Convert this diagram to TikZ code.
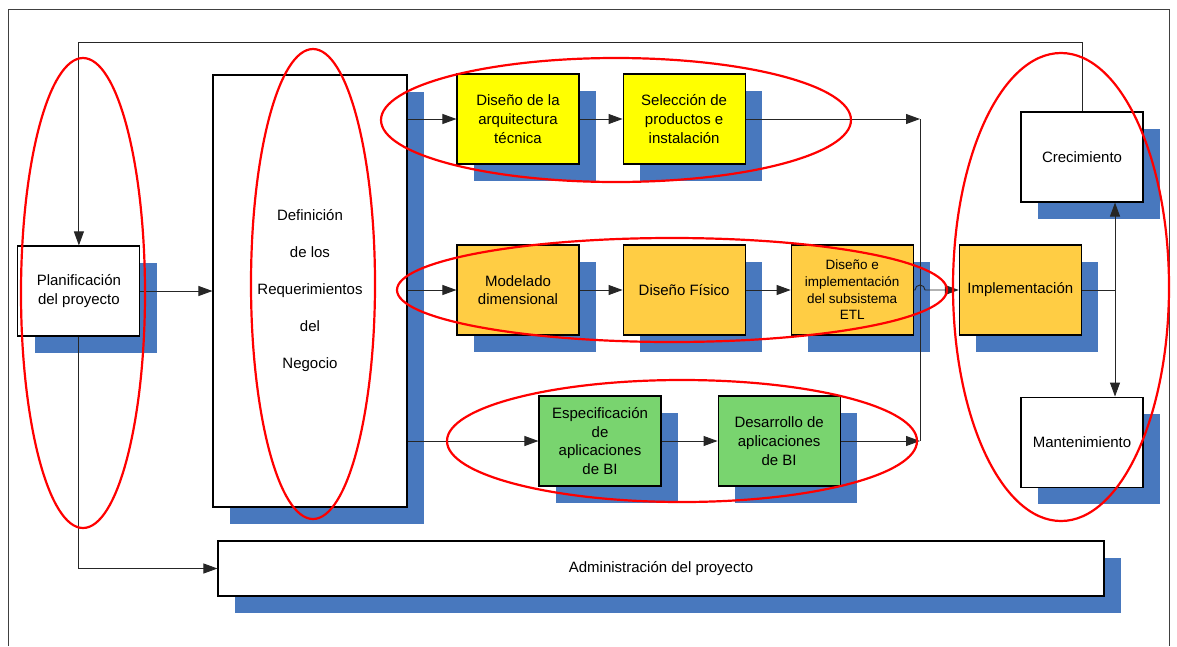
\documentclass[tikz,border=0pt]{standalone}
\usepackage{fontspec}
\setmainfont{Liberation Sans}
\usetikzlibrary{positioning,shadows,arrows.meta}
\definecolor{azul}{HTML}{4878BE}
\definecolor{amarillo}{HTML}{FFFF00}
\definecolor{naranjo}{HTML}{FFCD44}
\definecolor{verdoso}{HTML}{79D46F}
\begin{document}
\begin{tikzpicture}[x=1pt,y=-1pt,
  caja/.style={draw, line width=1.1pt, minimum width=122pt, minimum height=90pt, inner sep=2pt,
    align=center, font=\fontsize{15}{18.7}\selectfont,
    drop shadow={shadow xshift=17pt, shadow yshift=-17pt, fill=azul, opacity=1}},
  blanca/.style={caja, fill=white},
  amarilla/.style={caja, fill=amarillo},
  naranja/.style={caja, fill=naranjo},
  verde/.style={caja, fill=verdoso},
  linea/.style={line width=0.9pt, black!85},
  flecha/.style={linea, -{Triangle[length=14pt,width=10pt]}},
  anillo/.style={draw=red, line width=2.2pt}]
\useasboundingbox (0,0) rectangle (1177,646);
\draw[line width=1pt, black!75] (8,646) -- (8,9) -- (1169,9) -- (1169,646);

\node[blanca, minimum width=194pt, minimum height=432pt, font=\fontsize{15}{37}\selectfont] (def) at (310,291) {Definición\\de los\\Requerimientos\\del\\Negocio};
\node[blanca, left=72pt of def] (plan) {Planificación\\del proyecto};
\node[amarilla] (arq) at (518,119) {Diseño de la\\arquitectura\\técnica};
\node[amarilla, right=43pt of arq] (sel) {Selección de\\productos e\\instalación};
\node[naranja] (mod) at (518,290) {Modelado\\dimensional};
\node[naranja, right=43pt of mod] (fis) {Diseño Físico};
\node[naranja, right=45pt of fis, font=\fontsize{13.5}{16.7}\selectfont] (etl) {Diseño e\\implementación\\del subsistema\\ETL};
\node[naranja, right=45pt of etl] (imp) {Implementación};
\node[verde] (esp) at (600,441) {Especificación\\de\\aplicaciones\\de BI};
\node[verde, right=56pt of esp] (des) {Desarrollo de\\aplicaciones\\de BI};
\node[blanca] (cre) at (1082,157) {Crecimiento};
\node[blanca, below=194pt of cre] (man) {Mantenimiento};
\node[blanca, minimum width=886pt, minimum height=55pt] (adm) at (661,568.5) {Administración del proyecto};

\coordinate (ja) at (920,119);
\coordinate (jb) at (920,441);
\coordinate (sp) at (1115,290);

\draw[flecha] (plan.east) -- (def.west);
\draw[flecha] (def.east |- arq.west) -- (arq.west);
\draw[flecha] (arq) -- (sel);
\draw[flecha] (def.east |- mod.west) -- (mod.west);
\draw[flecha] (mod) -- (fis);
\draw[flecha] (fis) -- (etl);
\draw[flecha] (def.east |- esp.west) -- (esp.west);
\draw[flecha] (esp) -- (des);
\draw[flecha] (sel.east) -- (ja);
\draw[flecha] (des.east) -- (jb);
\draw[linea] (ja) -- (jb);
\draw[flecha] (etl.east) -- ([xshift=-5pt]ja |- etl.east) arc[start angle=180, end angle=0, radius=5pt] -- (imp.west);
\draw[linea] (imp.east) -- (sp);
\draw[flecha] (sp) -- (sp |- cre.south);
\draw[flecha] (sp) -- (sp |- man.north);
\draw[flecha] (cre.north) |- (plan.north |- 0,42) -- (plan.north);
\draw[flecha] (plan.south) |- (adm.west);

\draw[anillo] (83,293) ellipse [x radius=62pt, y radius=235pt];
\draw[anillo] (313,284) ellipse [x radius=62pt, y radius=235pt];
\draw[anillo] (616,120) ellipse [x radius=235pt, y radius=62pt];
\draw[anillo] (672,290) ellipse [x radius=275pt, y radius=52pt];
\draw[anillo] (682,441) ellipse [x radius=235pt, y radius=61pt];
\draw[anillo] (1061,287) ellipse [x radius=108pt, y radius=234pt];
\end{tikzpicture}
\end{document}
